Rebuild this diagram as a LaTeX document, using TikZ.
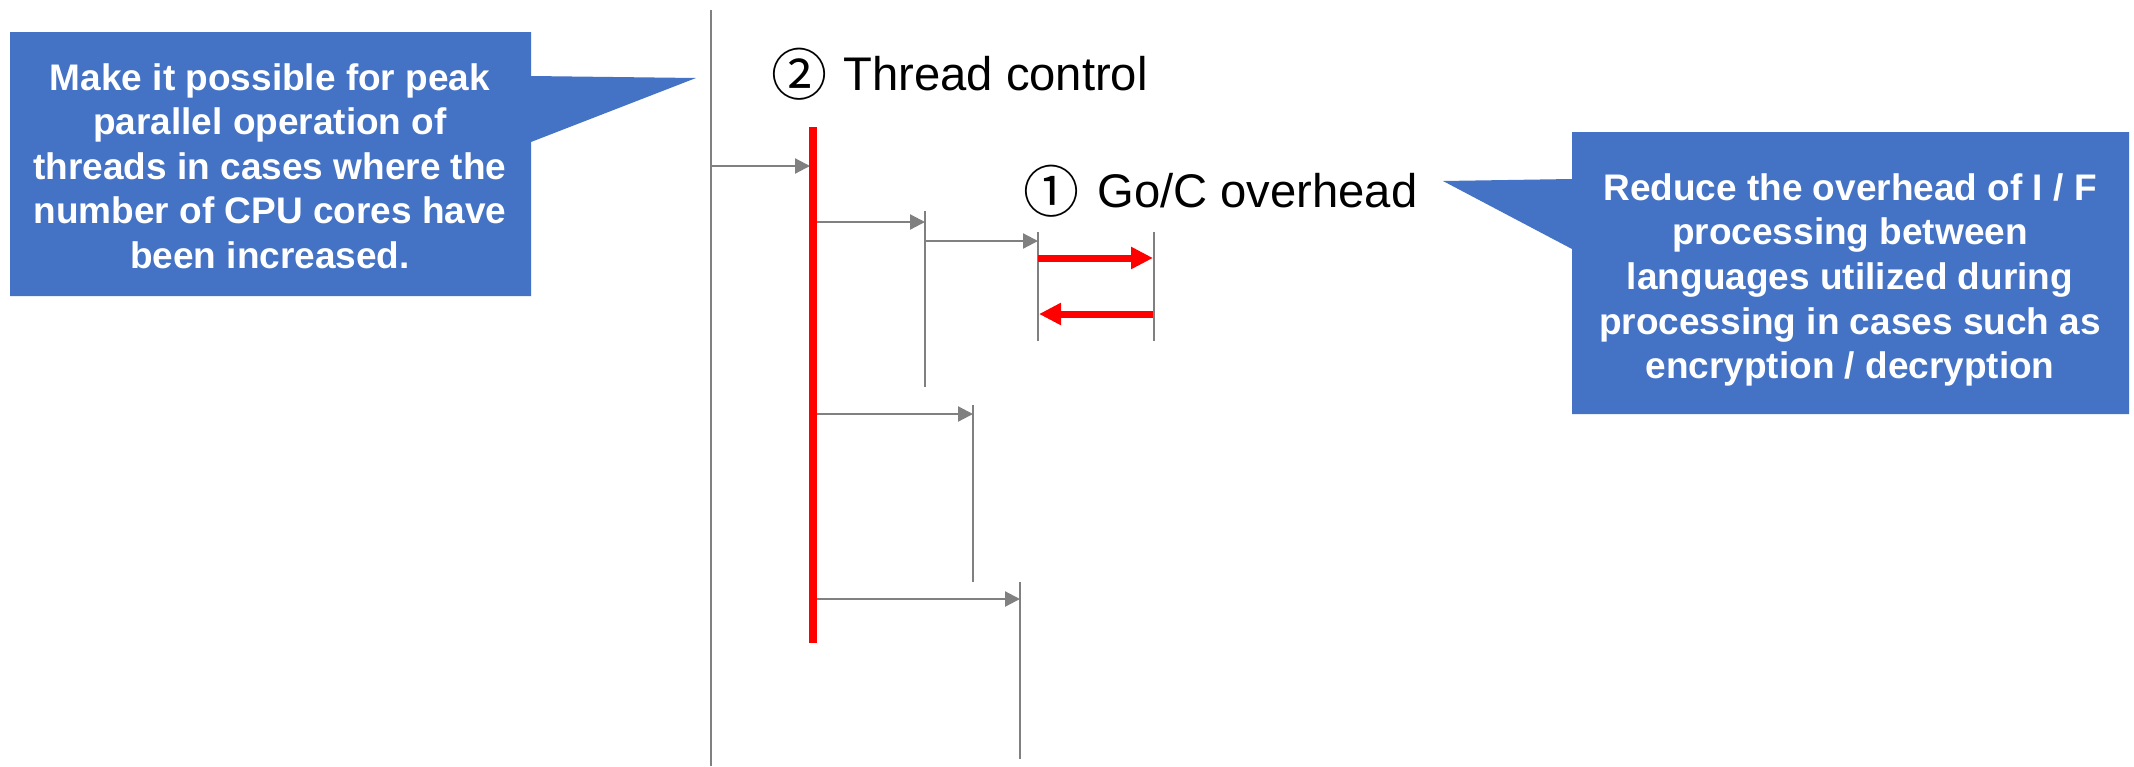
\documentclass[tikz,border=0pt]{standalone}
\usepackage{fontspec}
\setmainfont{Liberation Sans}
\newfontfamily\cjk{Noto Sans CJK JP}
\usetikzlibrary{arrows.meta}
\definecolor{callblue}{HTML}{4472C4}
\definecolor{linegray}{HTML}{808080}
\definecolor{barred}{HTML}{FF0000}
\begin{document}
\begin{tikzpicture}[x=0.5pt,y=-0.5pt,
  life/.style={draw=linegray, line width=1.1pt},
  msg/.style={draw=linegray, line width=1.1pt, -{Triangle[length=7.5pt,width=7.5pt]}},
  redbar/.style={draw=barred, line width=4pt},
  redarrow/.style={draw=barred, line width=3.5pt, -{Triangle[length=11pt,width=10.5pt]}},
  callout/.style={fill=callblue},
  calltext/.style={text=white, align=center, font=\bfseries\fontsize{18.5pt}{22.3pt}\selectfont, inner sep=0pt},
  title/.style={anchor=base west, font=\fontsize{23.6pt}{26pt}\selectfont, inner sep=0pt},
  circnum/.style={font=\cjk\fontsize{28pt}{28pt}\selectfont, inner sep=0pt}
]
\useasboundingbox (0,0) rectangle (2134,766);
\fill[white] (0,0) rectangle (2134,766);

% callouts
\fill[callout] (10,32) -- (531,32) -- (531,76) -- (696,78) -- (531,142) -- (531,296) -- (10,296) -- cycle;
\node[calltext] (lefttext) at (270,166) {Make it possible for peak\\parallel operation of\\threads in cases where the\\number of CPU cores have\\been increased.};

\fill[callout] (1572,132) -- (2129,132) -- (2129,414) -- (1572,414) -- (1572,249) -- (1443,181) -- (1572,179) -- cycle;
\node[calltext] (righttext) at (1850,280) {Reduce the overhead of I / F\\processing between\\languages utilized during\\processing in cases such as\\encryption / decryption};

% titles
\node[circnum] (c2) at (799,74) {②};
\node[title] (t2) at (843,90) {Thread control};
\node[circnum] (c1) at (1051,191) {①};
\node[title] (t1) at (1097,207) {Go/C overhead};

% coordinates
\coordinate (mainTop) at (711,10);
\coordinate (mainBot) at (711,766);
\coordinate (barTop) at (813,127);
\coordinate (barBot) at (813,643);
\coordinate (v1t) at (925,211); \coordinate (v1b) at (925,387);
\coordinate (v2t) at (1038,232); \coordinate (v2b) at (1038,341);
\coordinate (v3t) at (1154,232); \coordinate (v3b) at (1154,341);
\coordinate (v4t) at (973,405); \coordinate (v4b) at (973,582);
\coordinate (v5t) at (1020,582); \coordinate (v5b) at (1020,759);

\coordinate (m1s) at (711,166); \coordinate (m1e) at (810,166);
\coordinate (m2s) at (813,222); \coordinate (m2e) at (925,222);
\coordinate (m3s) at (925,241); \coordinate (m3e) at (1038,241);
\coordinate (m4s) at (813,414); \coordinate (m4e) at (973,414);
\coordinate (m5s) at (813,599); \coordinate (m5e) at (1020,599);
\coordinate (r1s) at (1038,258); \coordinate (r1e) at (1153,258);
\coordinate (r2s) at (1153,314); \coordinate (r2e) at (1039,314);

% lifelines
\draw[life] (mainTop) -- (mainBot);
\draw[life] (v1t) -- (v1b);
\draw[life] (v2t) -- (v2b);
\draw[life] (v3t) -- (v3b);
\draw[life] (v4t) -- (v4b);
\draw[life] (v5t) -- (v5b);

% messages
\draw[msg] (m1s) -- (m1e);
\draw[msg] (m2s) -- (m2e);
\draw[msg] (m3s) -- (m3e);
\draw[msg] (m4s) -- (m4e);
\draw[msg] (m5s) -- (m5e);

\draw[redbar] (barTop) -- (barBot);
\draw[redarrow] (r1s) -- (r1e);
\draw[redarrow] (r2s) -- (r2e);
\end{tikzpicture}
\end{document}
